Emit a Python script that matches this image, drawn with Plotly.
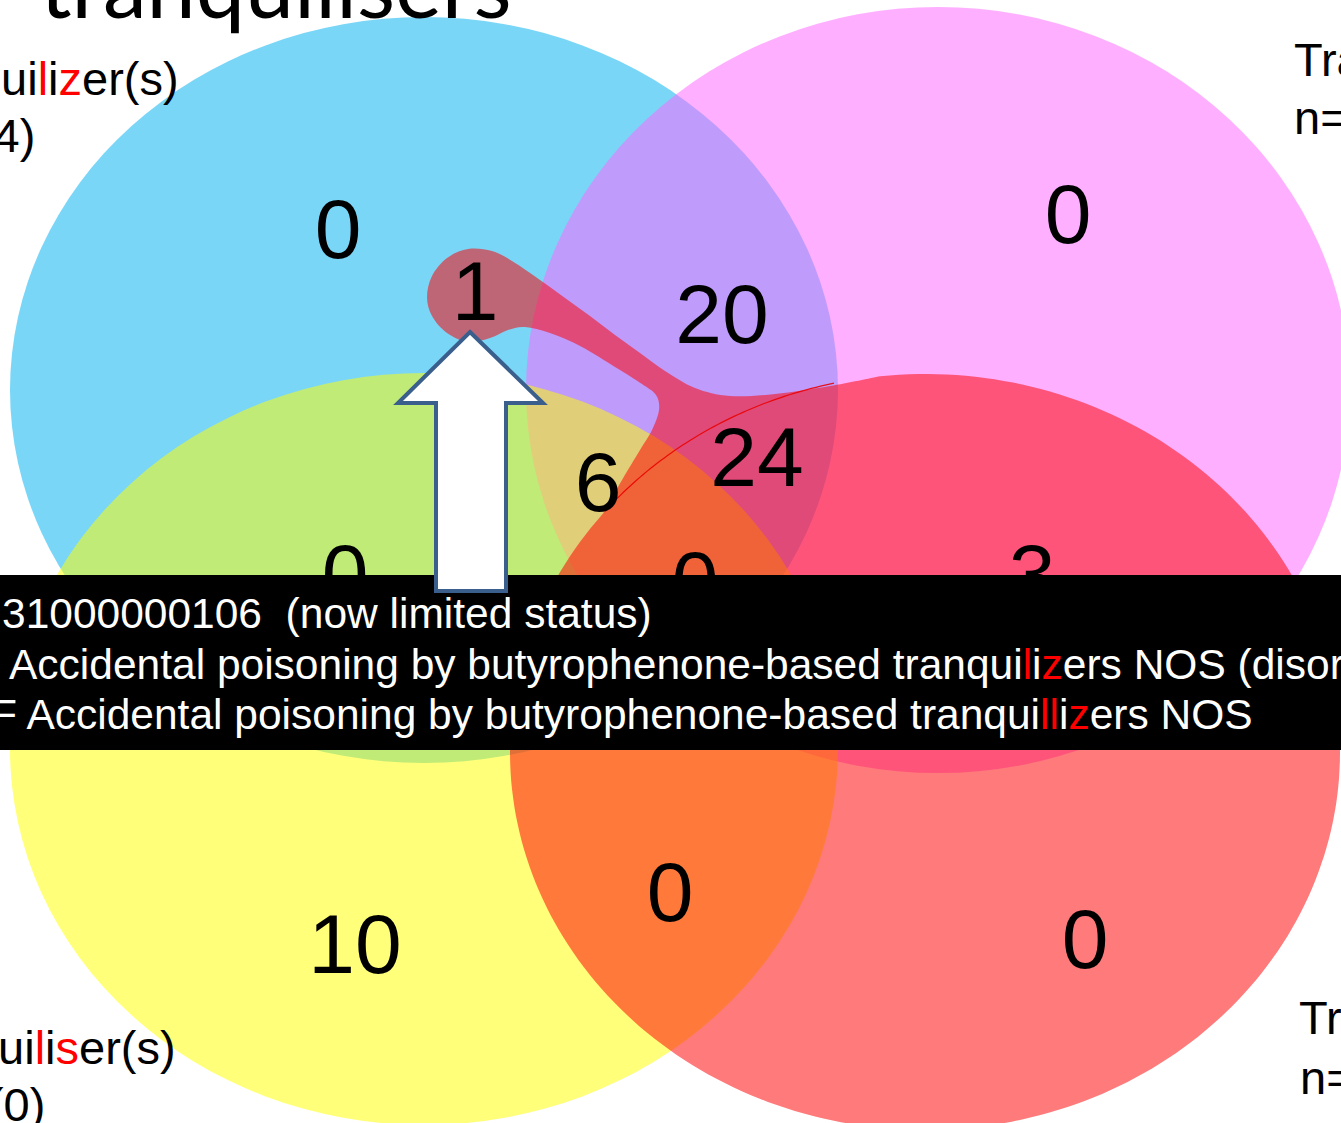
import numpy as np
import plotly.graph_objects as go

W, H = 1341, 1123

# ---------------- data ----------------
region_names = ["Tranquilizer only", "Tranquillizer only", "Tranquilizer (linked)",
                "Tranquilizer+Tranquillizer", "Tranquilizer+Tranquillizer+Tranquiliser",
                "Tranquilizer+Tranquillizer+Tranquilliser", "Tranquilizer+Tranquiliser",
                "All four", "Tranquillizer+Tranquilliser", "Tranquiliser only",
                "Tranquiliser+Tranquilliser", "Tranquilliser only"]
region_counts = [0, 0, 1, 20, 6, 24, 0, 0, 3, 10, 0, 0]
region_x = [338, 1068, 475, 722, 598, 757, 345, 695, 1032, 355, 670, 1085]
region_y = [230, 215, 292, 315, 483, 458, 575, 582, 575, 945, 893, 940]

set_labels = ["Tranqui<span style='color:#ff0000'>l</span>i<span style='color:#ff0000'>z</span>er(s)",
              "Tranquillizer(s)",
              "Tranqui<span style='color:#ff0000'>l</span>i<span style='color:#ff0000'>s</span>er(s)",
              "Tranquilliser(s)"]
set_counts = ["n=51 (4)", "n=44", "n=16 (0)", "n=27"]

band_lines = ["31000000106\u00a0 (now limited status)",
              "Accidental poisoning by butyrophenone-based tranqui<span style='color:#ff0000'>l</span>i"
              "<span style='color:#ff0000'>z</span>ers NOS (disorder)",
              "F Accidental poisoning by butyrophenone-based tranqui<span style='color:#ff0000'>ll</span>i"
              "<span style='color:#ff0000'>z</span>ers NOS"]
title_text = "tranquilisers"

# ---------------- geometry (styles / layout) ----------------
BLUE = (424, 390, 414, 373)
PINK = (938, 390, 412, 383)
YELLOW = (424, 749, 414, 376)
RED = (925, 752, 415, 378)
TEXT_DY = 7  # baseline correction of the number labels

blob_pts = [(622, 480), (640, 450), (652, 430), (659, 410), (656, 395), (642, 384),
            (615, 367), (582, 347), (550, 333), (525, 327), (508, 330), (490, 338),
            (468, 342), (447, 333), (432, 316), (427, 297), (432, 276), (447, 258),
            (468, 249), (492, 251), (512, 261), (540, 280), (565, 298), (590, 316),
            (615, 335), (640, 353), (665, 371), (695, 388), (730, 396), (775, 394),
            (830, 386)]


def ell_t(e, x):
    cx, cy, rx, ry = e
    c = (x - cx) / rx
    return np.arctan2(-np.sqrt(1 - c * c), c)


def ell_xy(e, t):
    cx, cy, rx, ry = e
    return cx + rx * np.cos(t), cy + ry * np.sin(t)


def ellipse_shape(e, rgba):
    cx, cy, rx, ry = e
    return dict(type="circle", xref="x", yref="y", x0=cx - rx, x1=cx + rx,
                y0=cy - ry, y1=cy + ry, fillcolor=rgba, line=dict(width=0), layer="below")


def catmull(points):
    segs = []
    n = len(points)
    for i in range(n - 1):
        p0 = np.array(points[max(i - 1, 0)], float)
        p1 = np.array(points[i], float)
        p2 = np.array(points[i + 1], float)
        p3 = np.array(points[min(i + 2, n - 1)], float)
        c1 = p1 + (p2 - p0) / 6
        c2 = p2 - (p3 - p1) / 6
        segs.append(f"C{c1[0]:.1f},{c1[1]:.1f} {c2[0]:.1f},{c2[1]:.1f} {p2[0]:.1f},{p2[1]:.1f}")
    return " ".join(segs)


t_up = ell_t(RED, 880)
t_lo = ell_t(RED, 603) + 2 * np.pi
ts = np.linspace(t_up, t_lo, 240)
ax_, ay_ = ell_xy(RED, ts)
red_path = "M" + " L".join(f"{x:.1f},{y:.1f}" for x, y in zip(ax_, ay_))
pts = [(ax_[-1], ay_[-1])] + blob_pts + [(ax_[0], ay_[0])]
red_path += " " + catmull(pts) + " Z"

ts2 = np.linspace(ell_t(RED, 605), ell_t(RED, 834), 60)
lx, ly = ell_xy(RED, ts2)
thin_path = "M" + " L".join(f"{x:.1f},{y:.1f}" for x, y in zip(lx, ly))

arrow_path = "M470,332 L543,403 L506,403 L506,591 L436,591 L436,403 L398,403 Z"

shapes = [
    ellipse_shape(BLUE, "rgba(0,176,240,0.52)"),
    ellipse_shape(PINK, "rgba(255,102,255,0.52)"),
    ellipse_shape(YELLOW, "rgba(255,255,0,0.52)"),
    dict(type="path", path=red_path, xref="x", yref="y",
         fillcolor="rgba(255,0,0,0.52)", line=dict(width=0), layer="below"),
    dict(type="path", path=thin_path, xref="x", yref="y",
         line=dict(color="rgba(235,0,0,0.9)", width=1.2), layer="below"),
    dict(type="rect", xref="x", yref="y", x0=0, x1=W, y0=575, y1=750,
         fillcolor="#000000", line=dict(width=0), layer="above"),
    dict(type="path", path=arrow_path, xref="x", yref="y", fillcolor="#ffffff",
         line=dict(color="#3A5F8C", width=4), layer="above"),
]

fig = go.Figure()
fig.add_trace(go.Scatter(
    x=region_x, y=[v + TEXT_DY for v in region_y], mode="text",
    text=[str(v) for v in region_counts],
    textposition="middle center", customdata=region_names,
    textfont=dict(family="Liberation Sans, Arial", size=84, color="#000000"),
    hoverinfo="skip", showlegend=False))


def px(x):
    return x / W


def py(y):
    return 1 - y / H


annotations = []


def ann(text, x, y, size, color="#000000", xanchor="left", yanchor="middle",
        family="Liberation Sans, Arial"):
    annotations.append(dict(text=text, x=px(x), y=py(y), xref="paper", yref="paper",
                            xanchor=xanchor, yanchor=yanchor, showarrow=False,
                            align="left", font=dict(family=family, size=size, color=color)))


# title (mostly above the visible area)
ann(title_text, 38, -71, 88, family="Lato", yanchor="top")

# set labels
ann(set_labels[0], 181, 78, 47, xanchor="right")
ann(set_counts[0], 37, 135, 47, xanchor="right")
ann(set_labels[1], 1292, 60, 47, xanchor="left")
ann(set_counts[1], 1292, 118, 47, xanchor="left")
ann(set_labels[2], 178, 1047, 47, xanchor="right")
ann(set_counts[2], 47, 1104, 47, xanchor="right")
ann(set_labels[3], 1297, 1017, 47, xanchor="left")
ann(set_counts[3], 1298, 1077, 47, xanchor="left")

# band text
ann(band_lines[0], 0, 613, 42.5, color="#ffffff")
ann(band_lines[1], 7, 664, 42.5, color="#ffffff")
ann(band_lines[2], -11, 714, 42.5, color="#ffffff")

fig.update_layout(
    width=W, height=H, margin=dict(l=0, r=0, t=0, b=0, pad=0),
    paper_bgcolor="#ffffff", plot_bgcolor="#ffffff",
    xaxis=dict(range=[0, W], visible=False, fixedrange=True),
    yaxis=dict(range=[H, 0], visible=False, fixedrange=True),
    shapes=shapes, annotations=annotations, showlegend=False,
)

fig.write_html("out.html", config={"displayModeBar": False},
               post_script="document.body.style.margin='0';document.body.style.overflow='hidden';")
